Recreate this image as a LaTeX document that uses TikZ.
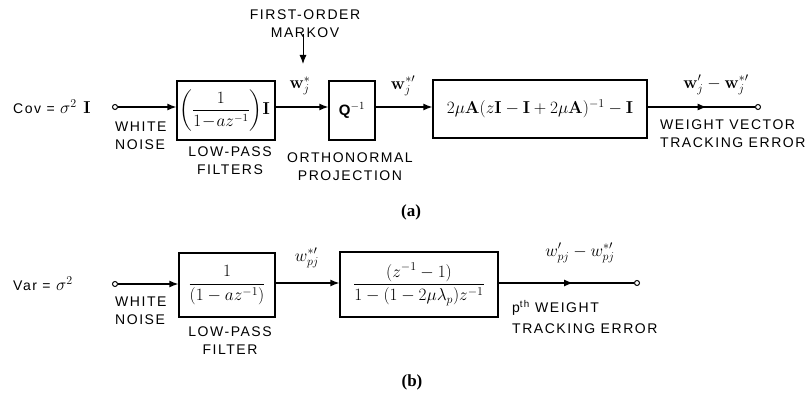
\documentclass[tikz,border=0pt]{standalone}
\usepackage{amsmath}
\usepackage[no-math]{fontspec}
\setmainfont{Liberation Sans}[LetterSpace=11]
\newfontfamily\capfont{Liberation Serif}
\usetikzlibrary{arrows.meta,positioning,decorations.markings}

\tikzset{
  blk/.style={draw, line width=1.3pt, inner sep=2pt},
  sig/.style={line width=1.3pt},
  tip/.style={-{Latex[length=9pt,width=7pt]}},
  midtip/.style={postaction={decorate}, decoration={markings,
      mark=at position 0.55 with {\arrow{Latex[length=9pt,width=7pt]}}}},
  port/.style={circle, draw, line width=1pt, inner sep=0pt, minimum size=5pt, fill=white},
  lbl/.style={inner sep=0pt, align=left},
  clbl/.style={inner sep=0pt, align=center},
  mth/.style={inner sep=0pt, font=\fontsize{17}{20}\selectfont},
  tag/.style={inner sep=0pt, font=\capfont\bfseries\fontsize{17}{20}\selectfont},
}

\begin{document}
\begin{tikzpicture}[x=1pt, y=-1pt, font=\fontsize{14}{18}\selectfont]
  \useasboundingbox (0,0) rectangle (807,398);

  % (a) weight vector tracking error
  \node[lbl, anchor=west] (cova) at (13,107) {Cov = \fontsize{17}{20}\selectfont$\sigma^2$ $\mathbf{I}$};
  \node[port] (ina) at (115,107) {};
  \node[blk, minimum width=98pt, minimum height=59pt, font=\fontsize{16}{20}\selectfont] (lpfa) at (226,110.5)
    {$\!\left(\dfrac{1}{1\!-\!az^{-1}}\right)\!\mathbf{I}$};
  \node[blk, minimum width=46pt, minimum height=59pt, font=\bfseries\fontsize{15}{18}\selectfont] (qa) at (352,110.5) {Q$^{-1}$};
  \node[blk, minimum width=214pt, minimum height=58pt, font=\fontsize{18}{20}\selectfont] (gaina) at (540,109)
    {$2\mu\mathbf{A}(z\mathbf{I}-\mathbf{I}+2\mu\mathbf{A})^{-1}-\mathbf{I}$};
  \node[port] (outa) at (758,107) {};

  \draw[sig, tip] (ina) -- (ina -| lpfa.west);
  \draw[sig, tip] (lpfa.east |- ina) -- (qa.west |- ina);
  \draw[sig, tip] (qa.east |- ina) -- (gaina.west |- ina);
  \draw[sig, midtip] (gaina.east |- outa) -- (outa);

  \node[clbl] (markov) at (305,24) {FIRST-ORDER\\MARKOV};
  \coordinate (mkend) at (303,64);
  \draw[line width=1pt, tip] (markov.south -| mkend) ++(0,-4) -- (mkend);

  \node[mth] (wsa) at (300,86) {$\mathbf{w}_j^{*}$};
  \node[mth] (wspa) at (403,86) {$\mathbf{w}_j^{*\prime}$};
  \node[mth] (erra) at (716,85) {$\mathbf{w}_j^{\prime}-\mathbf{w}_j^{*\prime}$};

  \node[lbl, anchor=north west] (noisea) at (115,122) {WHITE\\NOISE};
  \node[clbl, anchor=north] (lpfla) at (230,147) {LOW-PASS\\FILTERS};
  \node[clbl, anchor=north] (proja) at (350,153) {ORTHONORMAL\\PROJECTION};
  \node[lbl, anchor=north west] (wvte) at (660,120) {WEIGHT VECTOR\\TRACKING ERROR};
  \node[tag] (capa) at (411,212) {(a)};

  % (b) p-th weight tracking error
  \node[lbl, anchor=west] (varb) at (13,284) {Var = \fontsize{17}{20}\selectfont$\sigma^2$};
  \node[port] (inb) at (115,284) {};
  \node[blk, minimum width=96pt, minimum height=64pt, font=\fontsize{17}{20}\selectfont] (lpfb) at (227,285)
    {$\dfrac{1}{(1-az^{-1})}$};
  \node[blk, minimum width=158pt, minimum height=65pt, font=\fontsize{17}{20}\selectfont] (gainb) at (419,284.5)
    {$\dfrac{(z^{-1}-1)}{1-(1-2\mu\lambda_p)z^{-1}}$};
  \node[port] (outb) at (637,283) {};

  \draw[sig, tip] (inb) -- (inb -| lpfb.west);
  \draw[sig, tip] (lpfb.east |- outb) -- (gainb.west |- outb);
  \draw[sig, midtip] (gainb.east |- outb) -- (outb);

  \node[mth] (wspb) at (307,258) {$w_{pj}^{*\prime}$};
  \node[mth] (errb) at (580,253) {$w_{pj}^{\prime}-w_{pj}^{*\prime}$};

  \node[lbl, anchor=north west] (noiseb) at (115,297) {WHITE\\NOISE};
  \node[clbl, anchor=north] (lpflb) at (230,327) {LOW-PASS\\FILTER};
  \node[lbl, anchor=north west] (pwte) at (512,300) {p$^{\text{th}}$ WEIGHT\\[3pt]TRACKING ERROR};
  \node[tag] (capb) at (412,382) {(b)};
\end{tikzpicture}
\end{document}
